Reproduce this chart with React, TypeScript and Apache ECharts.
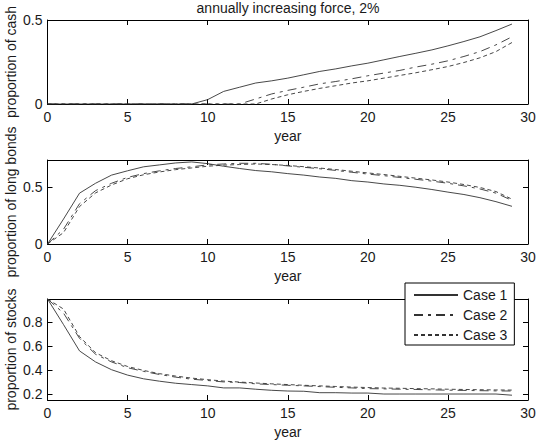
import React, { useEffect, useRef } from "react";
import * as echarts from "echarts";

const years = [0, 1, 2, 3, 4, 5, 6, 7, 8, 9, 10, 11, 12, 13, 14, 15, 16, 17, 18, 19, 20, 21, 22, 23, 24, 25, 26, 27, 28, 29];

const cash1 = [0, 0, 0, 0, 0, 0, 0, 0, 0, 0, 0.026, 0.075, 0.1, 0.125, 0.138, 0.154, 0.174, 0.194, 0.209, 0.227, 0.243, 0.263, 0.283, 0.302, 0.322, 0.346, 0.372, 0.4, 0.437, 0.476];
const cash2 = [0, 0, 0, 0, 0, 0, 0, 0, 0, 0, 0, 0, 0, 0.03, 0.06, 0.081, 0.1, 0.12, 0.134, 0.15, 0.168, 0.184, 0.2, 0.22, 0.237, 0.257, 0.283, 0.312, 0.352, 0.4];
const cash3 = [0, 0, 0, 0, 0, 0, 0, 0, 0, 0, 0, 0, 0, 0, 0.03, 0.055, 0.075, 0.093, 0.109, 0.125, 0.138, 0.154, 0.17, 0.186, 0.204, 0.223, 0.247, 0.275, 0.312, 0.366];

const bonds1 = [0, 0.22, 0.448, 0.535, 0.607, 0.645, 0.68, 0.697, 0.714, 0.723, 0.708, 0.685, 0.665, 0.647, 0.636, 0.62, 0.607, 0.59, 0.578, 0.558, 0.546, 0.529, 0.517, 0.5, 0.48, 0.457, 0.436, 0.408, 0.373, 0.332];
const bonds2 = [0, 0.13, 0.355, 0.47, 0.535, 0.587, 0.62, 0.645, 0.665, 0.68, 0.697, 0.705, 0.711, 0.711, 0.702, 0.688, 0.676, 0.663, 0.648, 0.632, 0.616, 0.602, 0.586, 0.57, 0.554, 0.535, 0.512, 0.485, 0.448, 0.384];
const bonds3 = [0, 0.1, 0.33, 0.45, 0.52, 0.575, 0.61, 0.635, 0.655, 0.67, 0.685, 0.695, 0.7, 0.705, 0.7, 0.692, 0.681, 0.669, 0.656, 0.641, 0.626, 0.612, 0.596, 0.58, 0.564, 0.546, 0.524, 0.498, 0.462, 0.395];

const stocks1 = [0.994, 0.78, 0.56, 0.468, 0.403, 0.358, 0.327, 0.307, 0.29, 0.279, 0.268, 0.251, 0.251, 0.24, 0.231, 0.225, 0.223, 0.211, 0.211, 0.208, 0.208, 0.2, 0.2, 0.2, 0.2, 0.2, 0.2, 0.2, 0.2, 0.19];
const stocks2 = [0.994, 0.876, 0.665, 0.532, 0.468, 0.42, 0.389, 0.363, 0.341, 0.324, 0.313, 0.301, 0.296, 0.285, 0.279, 0.273, 0.268, 0.262, 0.256, 0.251, 0.245, 0.243, 0.24, 0.238, 0.235, 0.232, 0.23, 0.228, 0.226, 0.225];
const stocks3 = [0.994, 0.91, 0.68, 0.545, 0.478, 0.43, 0.397, 0.37, 0.35, 0.333, 0.32, 0.308, 0.3, 0.292, 0.285, 0.279, 0.273, 0.268, 0.263, 0.258, 0.254, 0.25, 0.248, 0.245, 0.243, 0.24, 0.238, 0.236, 0.234, 0.233];

const caseNames = ["Case 1", "Case 2", "Case 3"];
const xTicks = [0, 5, 10, 15, 20, 25, 30];
const yTicksCash = [0, 0.5];
const yTicksBonds = [0, 0.5];
const yTicksStocks = [0.2, 0.4, 0.6, 0.8];
const yNames = ["proportion of cash", "proportion of long bonds", "proportion of stocks"];
const titleText = "annually increasing force, 2%";

const FONT = "'Liberation Sans', Arial, Helvetica, sans-serif";
const INK = "#1a1a1a";
const LINE = "#333";

const dashTypes: any[] = ["solid", [9, 5, 3, 5], [4, 3]];

export default function App() {
  const ref = useRef<HTMLDivElement>(null);
  useEffect(() => {
    if (!ref.current) return;
    const chart = echarts.init(ref.current, null, { renderer: "svg" });

    const grids = [
      { left: 47.5, right: 15, top: 20, height: 84 },
      { left: 47.5, right: 15, top: 160, height: 84 },
      { left: 47.5, right: 15, top: 299, height: 101 },
    ];
    const yRanges = [
      { min: 0, max: 0.5, ticks: yTicksCash },
      { min: 0, max: 0.74, ticks: yTicksBonds },
      { min: 0.15, max: 0.994, ticks: yTicksStocks },
    ];
    const panels = [
      [cash1, cash2, cash3],
      [bonds1, bonds2, bonds3],
      [stocks1, stocks2, stocks3],
    ];

    const axisLine = { show: true, onZero: false, lineStyle: { color: "#000", width: 1 } };
    const tick = (vals?: number[]) => ({
      show: true,
      inside: true,
      length: 5,
      ...(vals ? { customValues: vals } : {}),
      lineStyle: { color: "#000" },
    });
    const xAxis: any[] = [];
    const yAxis: any[] = [];
    grids.forEach((_, i) => {
      xAxis.push({
        gridIndex: i,
        type: "value",
        min: 0,
        max: 30,
        interval: 5,
        position: "bottom",
        axisLine,
        axisTick: tick(),
        axisLabel: { margin: 6, fontSize: 14, color: INK, fontFamily: FONT, customValues: xTicks },
        splitLine: { show: false },
        name: "year",
        nameLocation: "middle",
        nameGap: 25,
        nameTextStyle: { fontSize: 14, color: INK, fontFamily: FONT },
      });
      xAxis.push({
        gridIndex: i,
        type: "value",
        min: 0,
        max: 30,
        interval: 5,
        position: "top",
        axisLine,
        axisTick: tick(),
        axisLabel: { show: false },
        splitLine: { show: false },
      });
      const r = yRanges[i];
      yAxis.push({
        gridIndex: i,
        type: "value",
        min: r.min,
        max: r.max,
        position: "left",
        axisLine,
        axisTick: tick(r.ticks),
        axisLabel: { margin: 5, fontSize: 14, color: INK, fontFamily: FONT, customValues: r.ticks },
        splitLine: { show: false },
        name: yNames[i],
        nameLocation: "middle",
        nameGap: 30,
        nameMoveOverlap: false,
        nameTextStyle: { fontSize: 14, color: INK, fontFamily: FONT },
      });
      yAxis.push({
        gridIndex: i,
        type: "value",
        min: r.min,
        max: r.max,
        position: "right",
        axisLine,
        axisTick: tick(r.ticks),
        axisLabel: { show: false },
        splitLine: { show: false },
      });
    });

    const series: any[] = [];
    panels.forEach((arrs, i) => {
      arrs.forEach((vals, k) => {
        series.push({
          type: "line",
          name: caseNames[k],
          xAxisIndex: i * 2,
          yAxisIndex: i * 2,
          data: years.map((y, j) => [y, vals[j]]),
          symbol: "none",
          lineStyle: { color: LINE, width: 0.9, type: dashTypes[k] },
          itemStyle: { color: LINE },
          z: 3,
        });
      });
    });

    chart.setOption({
      animation: false,
      textStyle: { fontFamily: FONT },
      title: {
        text: titleText,
        left: 288,
        top: 1,
        textAlign: "center",
        padding: 0,
        textStyle: { fontSize: 14, fontWeight: "normal", color: INK, fontFamily: FONT },
      },
      legend: {
        data: caseNames,
        orient: "vertical",
        left: 405,
        top: 283,
        itemWidth: 44,
        itemHeight: 14,
        itemGap: 6,
        padding: [5, 7, 3, 8],
        borderColor: "#000",
        borderWidth: 1,
        backgroundColor: "#fff",
        itemStyle: { opacity: 0 },
        textStyle: { fontSize: 14, color: INK, fontFamily: FONT },
        z: 10,
      },
      grid: grids.map((g) => ({ ...g, show: false, containLabel: false, outerBoundsMode: "none" })),
      xAxis,
      yAxis,
      series,
    });
    return () => chart.dispose();
  }, []);
  return (
    <div
      ref={ref}
      style={{ position: "absolute", left: 0, top: 0, width: 543, height: 443, background: "#fff" }}
    />
  );
}
